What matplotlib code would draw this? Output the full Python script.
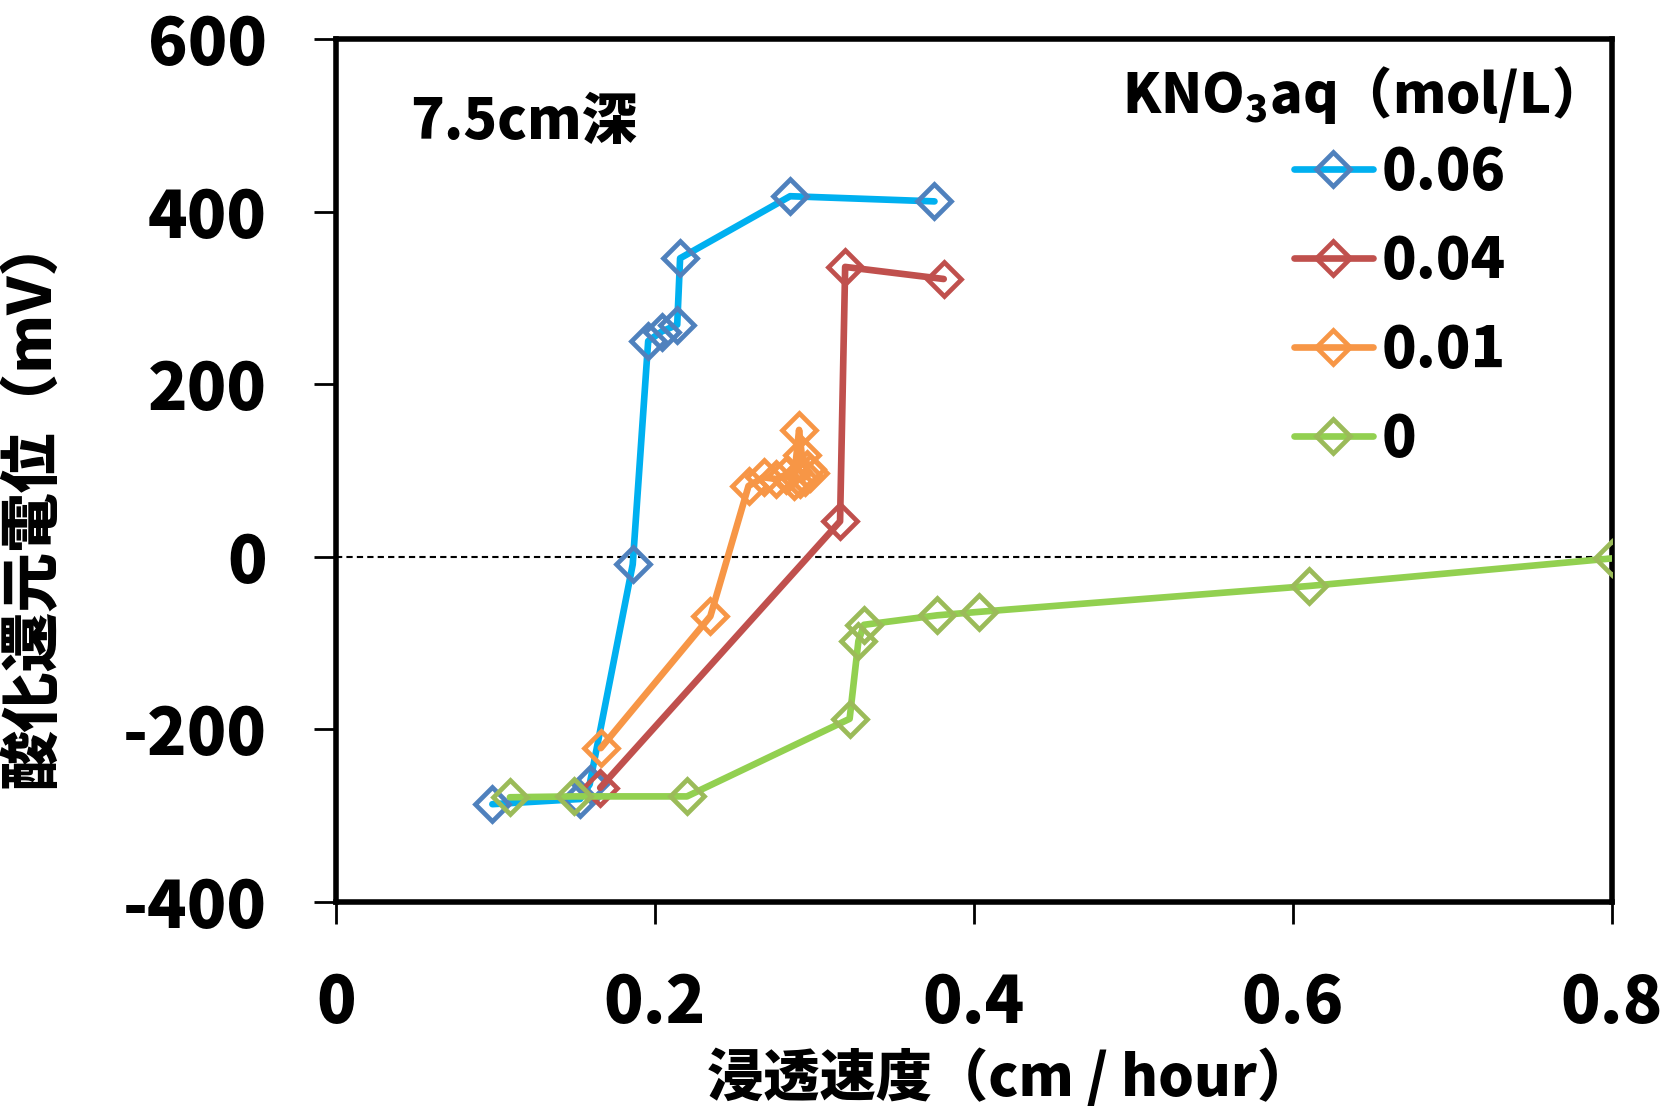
import matplotlib
matplotlib.use("Agg")
import matplotlib.pyplot as plt

plt.rcParams['font.family'] = ['Noto Sans CJK JP', 'DejaVu Sans']
plt.rcParams['font.weight'] = 'heavy'
plt.rcParams['mathtext.default'] = 'regular'
plt.rcParams['axes.unicode_minus'] = False

# Data (permeation speed cm/hour, ORP mV)
x_006 = [0.098, 0.153, 0.159, 0.186, 0.1957, 0.2041, 0.2139, 0.2157, 0.2847, 0.3752]
y_006 = [-287, -281, -264, -9, 250, 261, 269, 346, 418, 412]

x_004 = [0.1656, 0.316, 0.3192, 0.381]
y_004 = [-268, 41, 336, 322]

x_001 = [0.166, 0.2347, 0.2586, 0.268, 0.276, 0.282, 0.287, 0.2903, 0.292, 0.295, 0.297, 0.294, 0.291]
y_001 = [-222, -69, 82, 92, 90, 95, 88, 147, 118, 102, 97, 92, 90]

x_000 = [0.109, 0.149, 0.220, 0.322, 0.3275, 0.331, 0.377, 0.403, 0.610, 0.800]
y_000 = [-279, -278, -278, -188, -98, -79, -68, -64, -34, -2]

labels = ['0.06', '0.04', '0.01', '0']
line_colors = ['#00B0F0', '#C0504D', '#F79646', '#92D050']
marker_colors = ['#4F81BD', '#C0504D', '#F79646', '#9BBB59']

x_ticks = [0, 0.2, 0.4, 0.6, 0.8]
x_ticklabels = ['0', '0.2', '0.4', '0.6', '0.8']
y_ticks = [-400, -200, 0, 200, 400, 600]
y_ticklabels = ['-400', '-200', '0', '200', '400', '600']

fig = plt.figure(figsize=(16.67, 11.09), dpi=100)
ax = fig.add_axes([0.2016, 0.187, 0.967 - 0.2016, 0.9646 - 0.187])

ax.axhline(0, color='black', lw=1.5, ls=(0, (3, 2)), zorder=1)

series = [(x_006, y_006), (x_004, y_004), (x_001, y_001), (x_000, y_000)]
handles = []
for (xs, ys), lab, lc, mc in zip(series, labels, line_colors, marker_colors):
    h, = ax.plot(xs, ys, color=lc, lw=4.8, marker='D', markersize=17,
                 markerfacecolor='none', markeredgecolor=mc, markeredgewidth=3.4,
                 label=lab, solid_capstyle='round', solid_joinstyle='round', zorder=3)
    handles.append(h)

ax.set_xlim(0, 0.8)
ax.set_ylim(-400, 600)
ax.set_xticks(x_ticks)
ax.set_xticklabels(x_ticklabels)
ax.set_yticks(y_ticks)
ax.set_yticklabels(y_ticklabels)
ax.tick_params(axis='both', direction='out', length=16, width=2, labelsize=47, colors='black')
ax.tick_params(axis='x', pad=34)
ax.tick_params(axis='y', pad=34)
for lab in ax.get_xticklabels() + ax.get_yticklabels():
    lab.set_fontweight('heavy')
for sp in ax.spines.values():
    sp.set_linewidth(4)
    sp.set_color('black')

ax.set_xlabel('浸透速度（cm / hour）', fontsize=40.5, fontweight='heavy')
ax.set_ylabel('酸化還元電位（mV）', fontsize=43, fontweight='heavy')
ax.xaxis.set_label_coords(0.528, -0.172)
ax.yaxis.set_label_coords(-0.215, 0.465)

ax.text(0.058, 0.904, '7.5cm深', transform=ax.transAxes, fontsize=40,
        fontweight='heavy', va='center', ha='left')
ax.text(0.616, 0.935, 'KNO$_3$aq（mol/L）', transform=ax.transAxes, fontsize=39,
        fontweight='heavy', va='center', ha='left')

leg = ax.legend(handles=handles, loc='upper left', bbox_to_anchor=(0.733, 0.905),
                frameon=False, fontsize=41, handlelength=1.38, handletextpad=0.15,
                labelspacing=0.56, borderaxespad=0)
for t in leg.get_texts():
    t.set_fontweight('heavy')

fig.savefig('out.png', dpi=100, facecolor='white')
